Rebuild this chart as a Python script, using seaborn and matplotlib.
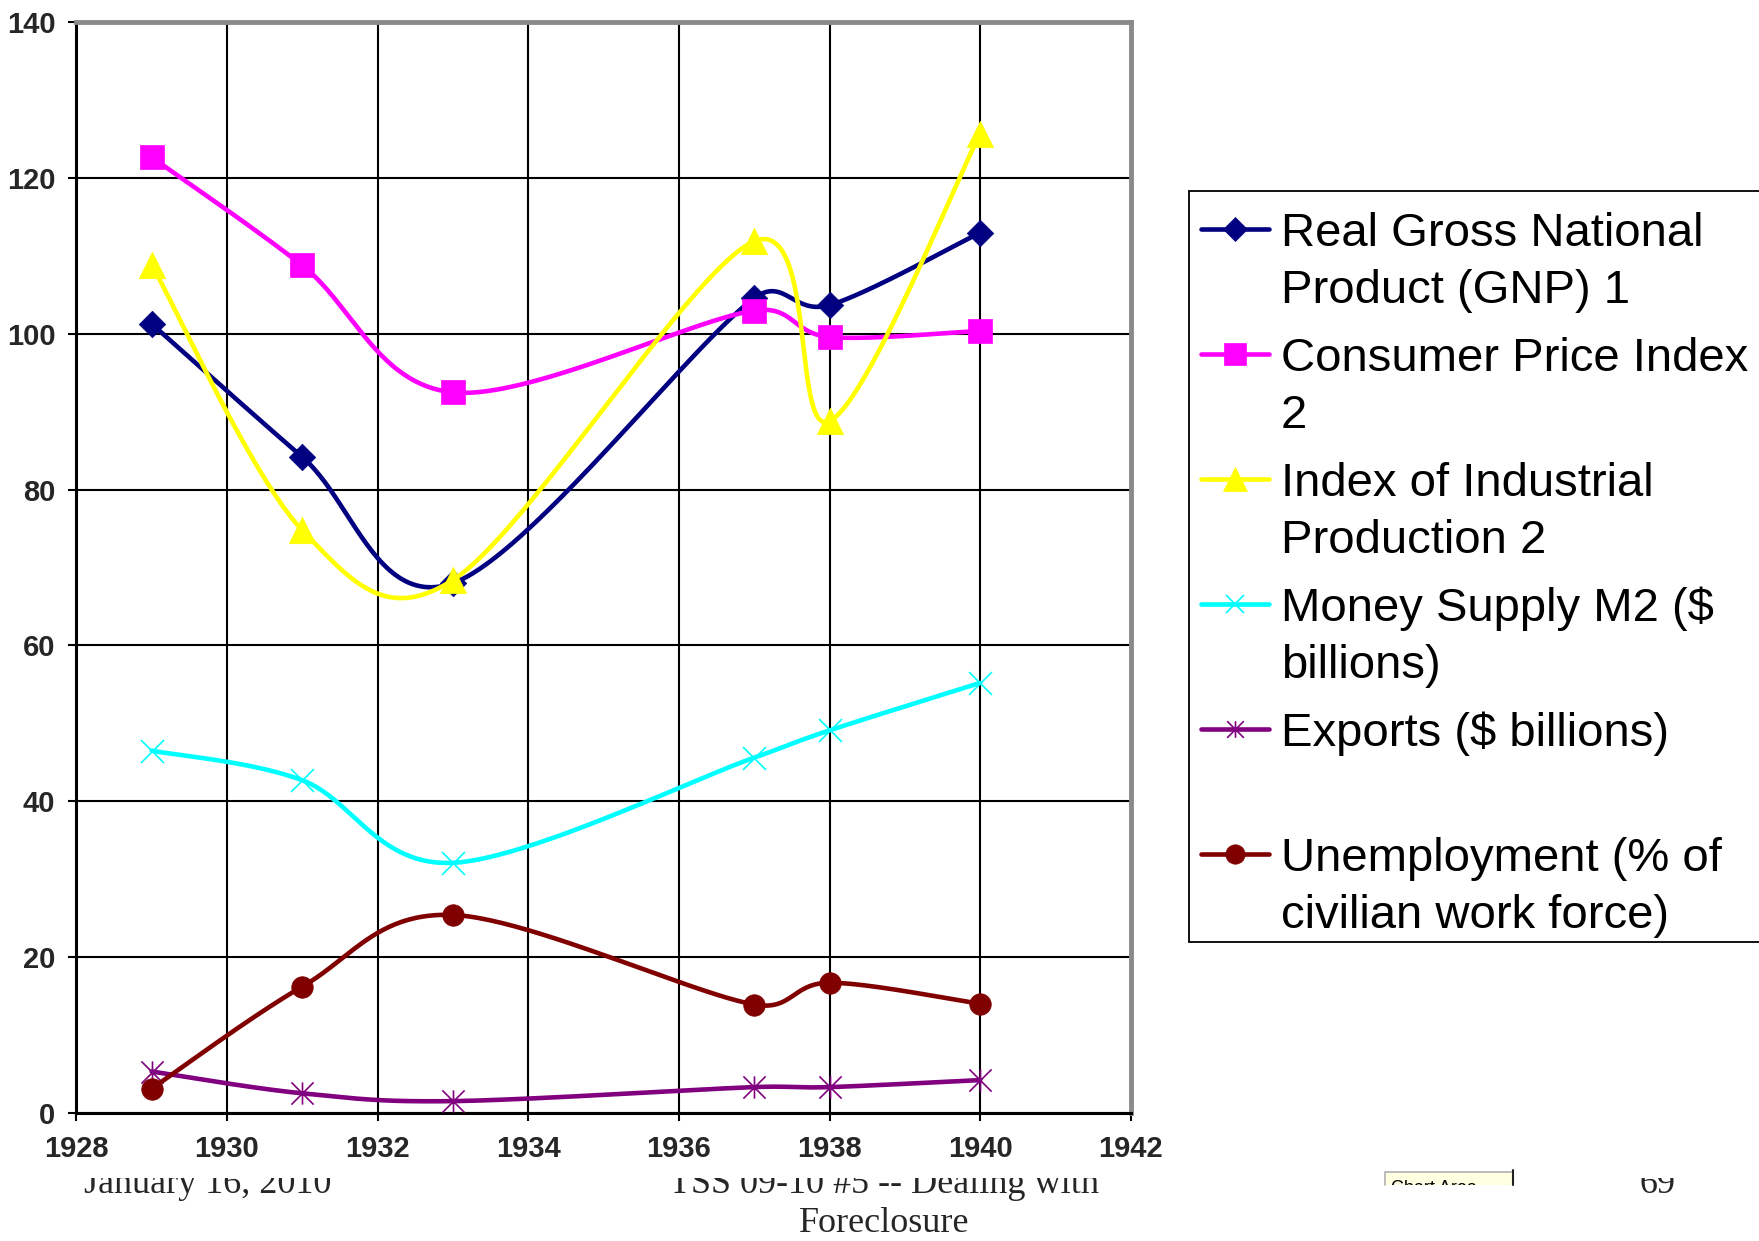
"""Great Depression indicators 1929-1940: Excel-style smoothed line chart redrawn with seaborn."""

import matplotlib

matplotlib.use("Agg")
import matplotlib.pyplot as plt
import numpy as np
import seaborn as sns
from matplotlib.patches import Rectangle
from matplotlib.path import Path

# ---- data -------------------------------------------------------------------
YEARS = [1929, 1931, 1933, 1937, 1938, 1940]
GNP = [101.3, 84.2, 68.0, 104.6, 103.7, 113.0]
CPI = [122.7, 108.8, 92.5, 103.0, 99.6, 100.4]
IND_PROD = [108.9, 74.8, 68.4, 111.9, 88.8, 125.7]
M2 = [46.5, 42.7, 32.1, 45.6, 49.1, 55.2]
EXPORTS = [5.3, 2.5, 1.5, 3.3, 3.3, 4.2]
UNEMP = [3.1, 16.2, 25.4, 13.9, 16.7, 14.0]

LABELS = [
    "Real Gross National\nProduct (GNP) 1",
    "Consumer Price Index\n2",
    "Index of Industrial\nProduction 2",
    "Money Supply M2 ($\nbillions)",
    "Exports ($ billions)\n",
    "Unemployment (% of\ncivilian work force)",
]
X_TICKS = list(range(1928, 1943, 2))
Y_TICKS = list(range(0, 141, 20))

FOOT_DATE = "January 16, 2010"
FOOT_TITLE = ["TSS 09-10 #5 -- Dealing with", "Foreclosure"]
FOOT_PAGE = "69"
TOOLTIP = "Chart Area"

# ---- styling ------------------------------------------------------------------
W, H = 1759, 1241
COLORS = ["#000080", "#ff00ff", "#ffff00", "#00ffff", "#800080", "#800000"]
STAR = Path([(-1, -1), (1, 1), (-1, 1), (1, -1), (0, -1), (0, 1)],
            [Path.MOVETO, Path.LINETO, Path.MOVETO, Path.LINETO, Path.MOVETO, Path.LINETO])
MARKERS = ["D", "s", "^", "x", STAR, "o"]
OPEN = [False, False, False, True, True, False]
MSIZE = [13.5, 17, 19, 16.5, 16, 15.5]
LW = 3.3

sns.set_theme(style="white")
plt.rcParams["font.family"] = ["Liberation Sans", "DejaVu Sans"]

# plot area in pixels (left, right, top, bottom)
x0, x1, y0, y1 = 76.3, 1130.8, 22.4, 1112.8
SX = (x1 - x0) / 14   # px per year
SY = (y1 - y0) / 140  # px per unit


def excel_smooth(xs, ys, n=50):
    """Bezier smoothing the way Excel's 'smoothed line' does it
    (1/6 tangents, capped at half the segment length, measured on screen)."""
    p = np.column_stack([xs, ys]).astype(float)
    ext = np.vstack([p[0], p, p[-1]])
    scr = np.array([SX, SY])
    t = np.linspace(0, 1, n)[:, None]
    segs = []
    for i in range(len(p) - 1):
        p0, p1, p2, p3 = ext[i], ext[i + 1], ext[i + 2], ext[i + 3]
        d02 = np.linalg.norm((p2 - p0) * scr)
        d12 = np.linalg.norm((p2 - p1) * scr)
        d13 = np.linalg.norm((p3 - p1) * scr)
        f1 = 1 / 6 if d02 / 6 < d12 / 2 else d12 / (2 * d02)
        f2 = 1 / 6 if d13 / 6 < d12 / 2 else d12 / (2 * d13)
        c1 = p1 + (p2 - p0) * f1
        c2 = p2 - (p3 - p1) * f2
        seg = (1 - t) ** 3 * p1 + 3 * (1 - t) ** 2 * t * c1 + 3 * (1 - t) * t ** 2 * c2 + t ** 3 * p2
        segs.append(seg if i == 0 else seg[1:])
    return np.vstack(segs)


fig = plt.figure(figsize=(W / 100, H / 100), dpi=100)
fig.patch.set_facecolor("white")

# background layer: slide footer, its top cut off by the pasted chart picture
bg = fig.add_axes([0, 0, 1, 1], zorder=-5)
bg.set_xlim(0, W)
bg.set_ylim(H, 0)
bg.axis("off")
serif = ["Liberation Serif", "DejaVu Serif"]
bg.text(84, 1193, FOOT_DATE, family=serif, fontsize=26, ha="left", va="baseline")
bg.text(884, 1193, FOOT_TITLE[0], family=serif, fontsize=26, ha="center", va="baseline")
bg.text(884, 1240, FOOT_TITLE[1], family=serif, fontsize=26, ha="center", va="bottom")
bg.text(1658, 1193, FOOT_PAGE, family=serif, fontsize=26, ha="center", va="baseline")
bg.add_patch(Rectangle((0, 0), W, 1178, facecolor="white", edgecolor="none", zorder=5))

# ---- main plot ---------------------------------------------------------------------
ax = fig.add_axes([x0 / W, 1 - y1 / H, (x1 - x0) / W, (y1 - y0) / H])
ax.set_facecolor("white")

series = [GNP, CPI, IND_PROD, M2, EXPORTS, UNEMP]
for i, vals in enumerate(series):
    curve = excel_smooth(YEARS, vals)
    sns.lineplot(x=curve[:, 0], y=curve[:, 1], sort=False, estimator=None, color=COLORS[i],
                 lw=LW, ax=ax, zorder=3 + 2 * i, legend=False)
    sns.scatterplot(x=YEARS, y=vals, marker=MARKERS[i], s=MSIZE[i] ** 2, color=COLORS[i],
                    edgecolor=COLORS[i], linewidth=1.2 if OPEN[i] else 0.5, ax=ax,
                    zorder=4 + 2 * i, legend=False)

ax.set_xlim(1928, 1942)
ax.set_ylim(0, 140)
ax.set_xticks(X_TICKS)
ax.set_yticks(Y_TICKS)
ax.set_xlabel("")
ax.set_ylabel("")
ax.set_axisbelow(True)
ax.grid(True, color="black", lw=1.5)
for side in ("top", "right"):
    ax.spines[side].set_color("#8a8a8a")
    ax.spines[side].set_linewidth(3.5)
for side in ("left", "bottom"):
    ax.spines[side].set_color("black")
    ax.spines[side].set_linewidth(2.2)
ax.tick_params(axis="both", direction="out", length=6, width=1.5, color="black",
               left=True, bottom=True, labelsize=21)
ax.tick_params(axis="y", pad=9)
ax.tick_params(axis="x", pad=10)
for lab in ax.get_xticklabels() + ax.get_yticklabels():
    lab.set_fontweight("bold")

# ---- overlay: legend box and the stray tooltip ---------------------------------------
ov = fig.add_axes([0, 0, 1, 1], zorder=5)
ov.set_xlim(0, W)
ov.set_ylim(H, 0)
ov.axis("off")
ov.patch.set_alpha(0)

lx, ly_top, ly_bot = 1189, 191, 942
ov.plot([lx, lx], [ly_top, ly_bot], color="black", lw=1.3)
ov.plot([lx, W + 5], [ly_top, ly_top], color="black", lw=1.3, clip_on=False)
ov.plot([lx, W + 5], [ly_bot, ly_bot], color="black", lw=1.3, clip_on=False)
for i, label in enumerate(LABELS):
    base = 246 + 125 * i
    mid = base - 17
    ov.plot([1201, 1269], [mid, mid], color=COLORS[i], lw=LW)
    ov.plot([1235], [mid], marker=MARKERS[i], ms=MSIZE[i] * (0.75 if OPEN[i] else 0.9),
            color=COLORS[i], mec=COLORS[i], mew=1.2 if OPEN[i] else 0.5, ls="none")
    for j, line in enumerate(label.split("\n")):
        if line:
            ov.text(1281, base + 57 * j, line, fontsize=34, ha="left", va="baseline",
                    parse_math=False, color="black")

# tooltip left over in the screenshot, only its top strip is visible
ov.add_patch(Rectangle((1385, 1172), 128, 12.5, facecolor="#ffffe1", edgecolor="none", zorder=1))
ov.text(1391, 1193, TOOLTIP, fontsize=13, ha="left", va="baseline", color="black", zorder=2)
ov.add_patch(Rectangle((1380, 1184.5), 140, 20, facecolor="white", edgecolor="none", zorder=3))
ov.plot([1385, 1385, 1513], [1184.5, 1172, 1172], color="#b0b0b0", lw=1.2, zorder=4)
ov.plot([1513, 1513], [1170, 1185], color="#202020", lw=1.5, zorder=4)

fig.savefig("out.png", dpi=100)
